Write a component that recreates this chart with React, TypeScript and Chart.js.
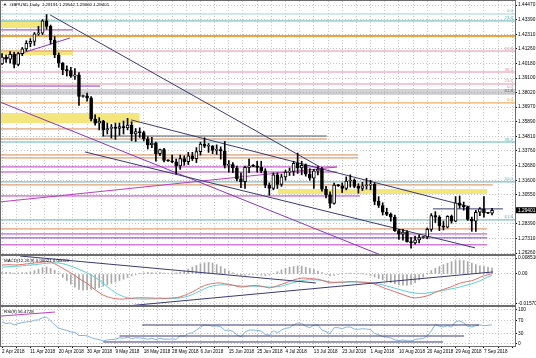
import { useEffect, useRef } from 'react';
import { Chart, registerables } from 'chart.js';

Chart.register(...registerables);

const FONT = '"Liberation Sans", Arial, sans-serif';

// ---------- categories / tick labels ----------
const dateLabels = ['2 Apr 2018', '11 Apr 2018', '20 Apr 2018', '30 Apr 2018', '9 May 2018', '18 May 2018', '28 May 2018', '6 Jun 2018', '15 Jun 2018', '25 Jun 2018', '4 Jul 2018', '13 Jul 2018', '23 Jul 2018', '1 Aug 2018', '10 Aug 2018', '20 Aug 2018', '29 Aug 2018', '7 Sep 2018'];
const priceTicks = [1.4447, 1.4339, 1.4231, 1.4126, 1.4018, 1.391, 1.3802, 1.3697, 1.3589, 1.3481, 1.3376, 1.3268, 1.316, 1.3055, 1.2839, 1.2731, 1.2626];
const macdTicks = [0.00851, 0, -0.0157];
const macdTickLabels = ['0.008510', '0.00', '-0.01570'];
const rsiTicks = [100, 70, 30, 0];
const rsiTickLabels = ['100', '70', '30', '0'];

// ---------- daily GBPUSD candles ----------
const opens = [1.4015, 1.4065, 1.405, 1.4085, 1.401, 1.409, 1.4125, 1.4165, 1.418, 1.4235, 1.424, 1.433, 1.429, 1.419, 1.408, 1.402, 1.397, 1.3965, 1.3925, 1.3935, 1.3775, 1.378, 1.3765, 1.361, 1.358, 1.3595, 1.353, 1.354, 1.355, 1.354, 1.3555, 1.3545, 1.3565, 1.35, 1.3518, 1.351, 1.3465, 1.342, 1.3433, 1.3355, 1.3385, 1.3305, 1.3303, 1.3295, 1.3265, 1.332, 1.3296, 1.334, 1.3318, 1.337, 1.3425, 1.341, 1.3412, 1.338, 1.3385, 1.3375, 1.327, 1.3275, 1.325, 1.317, 1.315, 1.3255, 1.3266, 1.3262, 1.3255, 1.323, 1.3125, 1.31, 1.32, 1.313, 1.3185, 1.322, 1.3225, 1.3285, 1.325, 1.327, 1.3205, 1.3175, 1.323, 1.324, 1.3095, 1.3055, 1.299, 1.3125, 1.312, 1.31, 1.3155, 1.316, 1.3115, 1.31, 1.312, 1.3125, 1.313, 1.3005, 1.2975, 1.2925, 1.291, 1.289, 1.279, 1.2765, 1.278, 1.271, 1.27, 1.2722, 1.274, 1.2745, 1.28, 1.29, 1.289, 1.2825, 1.2815, 1.2895, 1.286, 1.2995, 1.2975, 1.2965, 1.2873, 1.286, 1.2925, 1.295, 1.292, 1.29191];
const highs = [1.409, 1.408, 1.4105, 1.41, 1.41, 1.4135, 1.4185, 1.42, 1.4245, 1.429, 1.434, 1.4377, 1.43, 1.4215, 1.4095, 1.4025, 1.4, 1.399, 1.398, 1.395, 1.3785, 1.38, 1.3775, 1.364, 1.362, 1.36, 1.358, 1.357, 1.358, 1.358, 1.3595, 1.3615, 1.359, 1.354, 1.3545, 1.352, 1.348, 1.3475, 1.344, 1.339, 1.3395, 1.331, 1.3345, 1.3315, 1.3345, 1.334, 1.3365, 1.3365, 1.34, 1.344, 1.3472, 1.343, 1.3415, 1.342, 1.3405, 1.3445, 1.3305, 1.329, 1.3265, 1.3215, 1.3265, 1.3315, 1.3275, 1.33, 1.33, 1.3245, 1.314, 1.3215, 1.3215, 1.3205, 1.3235, 1.325, 1.33, 1.336, 1.33, 1.328, 1.3245, 1.324, 1.326, 1.3255, 1.3115, 1.3075, 1.314, 1.313, 1.314, 1.3185, 1.32, 1.317, 1.3135, 1.3145, 1.3175, 1.316, 1.314, 1.304, 1.2995, 1.2955, 1.292, 1.2905, 1.28, 1.28, 1.279, 1.274, 1.275, 1.276, 1.2748, 1.281, 1.2915, 1.293, 1.29, 1.286, 1.29, 1.2905, 1.304, 1.3045, 1.3, 1.297, 1.289, 1.294, 1.296, 1.304, 1.2925, 1.29542];
const lows = [1.401, 1.4025, 1.402, 1.3985, 1.4, 1.4075, 1.411, 1.414, 1.415, 1.4225, 1.423, 1.427, 1.416, 1.406, 1.399, 1.3935, 1.3925, 1.3915, 1.39, 1.371, 1.377, 1.374, 1.3595, 1.3565, 1.353, 1.3485, 1.35, 1.347, 1.346, 1.349, 1.35, 1.353, 1.345, 1.3445, 1.3475, 1.345, 1.339, 1.34, 1.33, 1.334, 1.3295, 1.3298, 1.329, 1.3205, 1.324, 1.327, 1.3275, 1.3305, 1.329, 1.3345, 1.34, 1.3365, 1.3355, 1.335, 1.3315, 1.325, 1.322, 1.3215, 1.3155, 1.3105, 1.31, 1.3215, 1.326, 1.322, 1.3215, 1.3105, 1.305, 1.309, 1.31, 1.3115, 1.316, 1.3195, 1.3195, 1.321, 1.32, 1.319, 1.316, 1.31, 1.32, 1.308, 1.303, 1.2957, 1.2985, 1.3115, 1.307, 1.309, 1.311, 1.3105, 1.3065, 1.3085, 1.3095, 1.309, 1.298, 1.296, 1.2905, 1.29, 1.286, 1.2785, 1.2725, 1.272, 1.2705, 1.2662, 1.269, 1.27, 1.2735, 1.273, 1.2785, 1.285, 1.279, 1.2795, 1.281, 1.2845, 1.2855, 1.2955, 1.294, 1.2865, 1.2785, 1.2785, 1.29, 1.289, 1.2915, 1.2906];
const closes = [1.4065, 1.405, 1.4085, 1.401, 1.409, 1.4125, 1.4165, 1.418, 1.4235, 1.424, 1.433, 1.429, 1.419, 1.408, 1.402, 1.397, 1.3965, 1.3925, 1.3935, 1.3775, 1.378, 1.3765, 1.361, 1.358, 1.3595, 1.353, 1.354, 1.355, 1.354, 1.3555, 1.3545, 1.3565, 1.35, 1.3518, 1.351, 1.3465, 1.342, 1.3433, 1.3355, 1.3385, 1.3305, 1.3303, 1.3295, 1.3265, 1.332, 1.3296, 1.334, 1.3318, 1.337, 1.3425, 1.341, 1.3412, 1.338, 1.3385, 1.3375, 1.327, 1.3275, 1.325, 1.317, 1.315, 1.3255, 1.3266, 1.3262, 1.3255, 1.323, 1.3125, 1.31, 1.32, 1.313, 1.3185, 1.322, 1.3225, 1.3285, 1.325, 1.327, 1.3205, 1.3175, 1.323, 1.324, 1.3095, 1.3055, 1.299, 1.3125, 1.312, 1.31, 1.3155, 1.316, 1.3115, 1.31, 1.312, 1.3125, 1.313, 1.3005, 1.2975, 1.2925, 1.291, 1.289, 1.279, 1.2765, 1.278, 1.271, 1.27, 1.2722, 1.274, 1.2745, 1.28, 1.29, 1.289, 1.2825, 1.2815, 1.2895, 1.286, 1.2995, 1.2975, 1.2965, 1.2873, 1.286, 1.2925, 1.295, 1.292, 1.2919, 1.29401];

// ---------- MACD panel ----------
const macdMain = [0.0048, 0.0049, 0.005, 0.0048, 0.0049, 0.0051, 0.0054, 0.0056, 0.0059, 0.0061, 0.0064, 0.0066, 0.0064, 0.0055, 0.0043, 0.003, 0.0018, 0.0005, -0.0008, -0.0025, -0.0038, -0.005, -0.0068, -0.0085, -0.01, -0.0113, -0.0122, -0.0128, -0.0132, -0.0134, -0.0134, -0.0131, -0.013, -0.0128, -0.0127, -0.0127, -0.0128, -0.0128, -0.013, -0.0129, -0.013, -0.013, -0.0128, -0.0127, -0.0122, -0.0115, -0.0106, -0.0096, -0.0084, -0.0072, -0.0062, -0.0055, -0.0051, -0.0048, -0.0048, -0.0052, -0.0056, -0.006, -0.0066, -0.007, -0.0068, -0.0064, -0.0062, -0.0062, -0.0065, -0.007, -0.0075, -0.007, -0.0063, -0.0055, -0.0047, -0.004, -0.0032, -0.0026, -0.0022, -0.0022, -0.0025, -0.0026, -0.0028, -0.0034, -0.0041, -0.0048, -0.0046, -0.0044, -0.0044, -0.0042, -0.004, -0.0041, -0.0043, -0.0044, -0.0045, -0.0047, -0.0054, -0.0062, -0.0072, -0.008, -0.0087, -0.0095, -0.0103, -0.011, -0.0118, -0.0125, -0.0128, -0.0126, -0.0122, -0.0117, -0.0108, -0.0098, -0.009, -0.0083, -0.0075, -0.0068, -0.0058, -0.005, -0.0044, -0.004, -0.0036, -0.0028, -0.0018, -0.001, -0.0004, 0.0002];
const macdSignal = [0.0037, 0.0038, 0.004, 0.0041, 0.0042, 0.0044, 0.0046, 0.0048, 0.005, 0.0052, 0.0055, 0.0057, 0.0059, 0.006, 0.0059, 0.0055, 0.0049, 0.0042, 0.0034, 0.0025, 0.0016, 0.0006, -0.0005, -0.0018, -0.0032, -0.005, -0.0068, -0.0085, -0.01, -0.0112, -0.0121, -0.0127, -0.0131, -0.0133, -0.0134, -0.0134, -0.0134, -0.0133, -0.0133, -0.0132, -0.0132, -0.0132, -0.0131, -0.013, -0.0128, -0.0124, -0.0118, -0.011, -0.01, -0.009, -0.0079, -0.007, -0.0064, -0.006, -0.0058, -0.0058, -0.0059, -0.006, -0.0062, -0.0064, -0.0065, -0.0065, -0.0065, -0.0065, -0.0066, -0.0068, -0.007, -0.007, -0.0068, -0.0064, -0.0058, -0.0052, -0.0046, -0.004, -0.0035, -0.0032, -0.0031, -0.0031, -0.0032, -0.0034, -0.0038, -0.0042, -0.0044, -0.0044, -0.0044, -0.0044, -0.0043, -0.0043, -0.0043, -0.0044, -0.0045, -0.0046, -0.0049, -0.0053, -0.0058, -0.0064, -0.007, -0.0076, -0.0082, -0.0088, -0.0094, -0.0099, -0.0102, -0.0104, -0.0104, -0.0102, -0.0099, -0.0095, -0.0091, -0.0087, -0.0083, -0.0079, -0.0075, -0.007, -0.0064, -0.0058, -0.0052, -0.0045, -0.0037, -0.0026, -0.0015, -0.0008];
const macdHist = [0.0008, 0.0009, 0.0007, 0.0005, 0.0006, 0.0007, 0.0008, 0.001, 0.0018, 0.0026, 0.0034, 0.0038, 0.003, 0.002, 0.0005, -0.0018, -0.0035, -0.0055, -0.007, -0.0082, -0.0086, -0.0085, -0.0082, -0.0078, -0.0072, -0.0066, -0.0058, -0.005, -0.0042, -0.0035, -0.0028, -0.0018, -0.001, -0.0005, 0.0002, 0.0006, 0.0008, 0.0008, 0.0006, 0.0007, 0.0005, 0.0004, 0.0005, 0.0006, 0.001, 0.0016, 0.0026, 0.0036, 0.0046, 0.0054, 0.006, 0.0062, 0.0058, 0.005, 0.004, 0.0028, 0.0016, 0.0006, -0.0004, -0.0008, -0.0006, -0.0004, -0.0004, -0.0005, -0.0006, -0.0008, -0.0006, 0.0002, 0.0012, 0.0022, 0.003, 0.0036, 0.004, 0.0043, 0.0042, 0.0036, 0.003, 0.0024, 0.0016, 0.0008, -0.0004, -0.001, -0.0008, -0.0004, 0.0002, 0.0003, 0.0005, 0.0004, 0.0002, 0.0001, -0.0002, -0.0008, -0.0016, -0.0024, -0.0032, -0.004, -0.0046, -0.0052, -0.0058, -0.006, -0.006, -0.0056, -0.0046, -0.0032, -0.0016, 0.0004, 0.0018, 0.003, 0.004, 0.005, 0.0058, 0.0066, 0.0072, 0.0075, 0.0072, 0.0066, 0.0058, 0.005, 0.0044, 0.004, 0.0036, 0.0032];

// ---------- RSI panel ----------
const rsi = [65, 60, 62, 56, 60, 63, 65, 66, 70, 71, 77, 79, 68, 56, 47, 43, 40, 35, 34, 25, 25, 24, 19, 15, 13, 9, 12, 13, 14, 18, 17, 20, 16, 18, 18, 16, 14, 17, 13, 17, 14, 14, 15, 14, 24, 23, 31, 33, 41, 50, 56, 55, 52, 53, 51, 40, 41, 37, 27, 21, 35, 41, 41, 40, 38, 28, 26, 39, 33, 41, 46, 48, 56, 62, 60, 52, 48, 55, 56, 41, 36, 30, 48, 48, 45, 50, 50, 44, 43, 45, 44, 42, 31, 27, 22, 20, 18, 12, 10, 12, 9, 9, 13, 15, 16, 24, 38, 58, 52, 50, 54, 50, 66, 68, 62, 52, 50, 54, 56, 54, 55, 56.47];

// ---------- drawn objects (price / bar-index coordinates) ----------
const levels = [
  { p: 1.4381, from: -1, to: 128, kind: 'tealLight' },
  { p: 1.433, from: -1, to: 128, kind: 'teal' },
  { p: 1.4219, from: -1, to: 128, kind: 'orangeThick' },
  { p: 1.4264, from: -1, to: 17.5, kind: 'purple' },
  { p: 1.4109, from: -1, to: 128, kind: 'pink' },
  { p: 1.3955, from: -1, to: 128, kind: 'pink' },
  { p: 1.3867, from: -1, to: 128, kind: 'pink' },
  { p: 1.3852, from: -1, to: 24.2, kind: 'purple' },
  { p: 1.3823, from: -1, to: 128, kind: 'gray' },
  { p: 1.3808, from: -1, to: 128, kind: 'gray' },
  { p: 1.3794, from: -1, to: 128, kind: 'gray' },
  { p: 1.3728, from: -1, to: 128, kind: 'orange' },
  { p: 1.3537, from: -1, to: 24.2, kind: 'brown' },
  { p: 1.3485, from: 24.7, to: 80.2, kind: 'darkgray' },
  { p: 1.3463, from: -1, to: 80.2, kind: 'brown' },
  { p: 1.3441, from: -1, to: 128, kind: 'teal' },
  { p: 1.3346, from: -1, to: 87.9, kind: 'brown' },
  { p: 1.3324, from: -1, to: 87.9, kind: 'brown' },
  { p: 1.3258, from: -1, to: 82.7, kind: 'magenta' },
  { p: 1.3221, from: -1, to: 82.7, kind: 'magenta' },
  { p: 1.3148, from: -1, to: 128, kind: 'teal' },
  { p: 1.3126, from: -1, to: 121.2, kind: 'brown' },
  { p: 1.3045, from: -1, to: 88.4, kind: 'magenta' },
  { p: 1.295, from: 106.4, to: 123.7, kind: 'navy' },
  { p: 1.2869, from: -1, to: 128, kind: 'teal' },
  { p: 1.2803, from: -1, to: 119.8, kind: 'brown' },
  { p: 1.2766, from: -1, to: 119.8, kind: 'magenta' },
  { p: 1.2737, from: -1, to: 119.8, kind: 'purple' },
  { p: 1.2686, from: -1, to: 119.8, kind: 'magenta' },
];
const zones = [
  { top: 1.433, bottom: 1.4278, from: -1, to: 11.1 },
  { top: 1.4117, bottom: 1.408, from: -1, to: 17.5 },
  { top: 1.3654, bottom: 1.3581, from: -1, to: 34 },
  { top: 1.3096, bottom: 1.306, from: 68, to: 119.8 },
];
const trendlines = [
  { x1: 11.9, y1: 1.4374, x2: 78.5, y2: 1.3258, kind: 'navy' },
  { x1: 31.9, y1: 1.3603, x2: 115.6, y2: 1.2964, kind: 'navy' },
  { x1: 20.5, y1: 1.3368, x2: 116.8, y2: 1.2664, kind: 'navy' },
  { x1: -0.5, y1: 1.3735, x2: 98.3, y2: 1.2554, kind: 'purple' },
  { x1: -0.5, y1: 1.4043, x2: 16.8, y2: 1.4205, kind: 'purple' },
  { x1: -0.5, y1: 1.3001, x2: 82.7, y2: 1.3258, kind: 'magenta' },
];
const fibTexts = [
  { t: '0.0', p: 1.4381, kind: 'teal' },
  { t: '23.6', p: 1.433, kind: 'teal' },
  { t: '61.8', p: 1.4109, kind: 'pink' },
  { t: '38.2', p: 1.3955, kind: 'pink' },
  { t: '23.6', p: 1.3867, kind: 'pink' },
  { t: '0.0', p: 1.3823, kind: 'gray' },
  { t: '61.8', p: 1.3794, kind: 'darkgray' },
  { t: '0.0', p: 1.3728, kind: 'orange' },
  { t: '38.2', p: 1.3441, kind: 'teal' },
  { t: '50.0', p: 1.3148, kind: 'teal' },
  { t: '61.8', p: 1.2869, kind: 'teal' },
];
const macdLines = [
  { x1: 4.4, y1: 0.00963, x2: 77.5, y2: -0.0048, kind: 'navy' },
  { x1: 30.9, y1: -0.0171, x2: 121.2, y2: 0.0011, kind: 'navy' },
];
const rsiLines = [
  { x1: -0.5, y1: 82, x2: 13.1, y2: 94, kind: 'magenta' },
  { x1: 34.6, y1: 55.9, x2: 117.8, y2: 55.9, kind: 'navy' },
  { x1: 29, y1: 23.5, x2: 114.1, y2: 23.5, kind: 'navy' },
  { x1: 25, y1: 5.9, x2: 108.9, y2: 5.9, kind: 'navy' },
];

const headerText = 'GBPUSD,Daily  1.29191 1.29542 1.29060 1.29401';
const macdTitle = 'MACD(12,26,9) 0.00021 0.00013';
const rsiTitle = 'RSI(9) 56.4728';
const lastPrice = 1.29401;

// ---------- styles ----------
const STY: Record<string, { c: string; w: number }> = {
  tealLight: { c: '#9fd6d6', w: 1 },
  teal: { c: '#5cb4b4', w: 1 },
  orange: { c: '#ee9c3a', w: 1 },
  orangeThick: { c: '#eea23c', w: 2 },
  brown: { c: '#d68a52', w: 1 },
  pink: { c: '#e690a8', w: 1 },
  magenta: { c: '#c03cc4', w: 1 },
  purple: { c: '#8c34c0', w: 1 },
  navy: { c: '#3a3a74', w: 1 },
  gray: { c: '#a4a4ac', w: 1 },
  darkgray: { c: '#5a5a60', w: 1 },
};
const ZONE_COLOR = '#f2e67c';
const GRID = '#c6c6c6';
const X_MIN = -0.5;
const X_MAX = 126.67;

function lineDs(x1: number, y1: number, x2: number, y2: number, kind: string, order: number) {
  const s = STY[kind];
  return {
    type: 'line', data: [{ x: x1, y: y1 }, { x: x2, y: y2 }], borderColor: s.c, borderWidth: s.w,
    pointRadius: 0, fill: false, tension: 0, order,
  };
}

function xAxis(showLabels: boolean) {
  return {
    type: 'linear', min: X_MIN, max: X_MAX, offset: false, display: true,
    afterBuildTicks: (s: any) => {
      const t = [];
      for (let k = 0; k <= 36; k++) t.push({ value: k * 3.5 });
      s.ticks = t;
    },
    afterFit: (s: any) => {
      s.height = showLabels ? 12 : 0;
      s.paddingLeft = 0; s.paddingRight = 0; s.paddingTop = 0; s.paddingBottom = 0;
    },
    grid: { color: GRID, lineWidth: 1, drawTicks: showLabels, tickLength: 2, tickColor: '#000', tickBorderDash: [], offset: false },
    border: { display: false, dash: [1, 2] },
    ticks: {
      display: showLabels, autoSkip: false, maxRotation: 0, minRotation: 0, align: 'start', padding: 1,
      color: '#000', font: { family: FONT, size: 4.6 },
      callback: (v: number) => {
        const k = v / 7;
        return Number.isInteger(k) && dateLabels[k] ? dateLabels[k] : '';
      },
    },
  };
}

function yAxis(min: number, max: number, ticks: number[], fmt: (v: number, i: number) => string) {
  return {
    type: 'linear', position: 'right', min, max,
    afterBuildTicks: (s: any) => { s.ticks = ticks.map((v) => ({ value: v })); },
    afterFit: (s: any) => {
      s.width = 21;
      s.paddingLeft = 0; s.paddingRight = 0; s.paddingTop = 0; s.paddingBottom = 0;
    },
    grid: { color: GRID, lineWidth: 1, drawTicks: true, tickLength: 2, tickColor: '#000', tickBorderDash: [] },
    border: { display: false, dash: [1, 2] },
    ticks: { color: '#000', padding: 1, font: { family: FONT, size: 4.8 }, callback: (v: number, i: number) => fmt(v, i) },
  };
}

function decor(opts: { title?: string; header?: boolean; fib?: boolean; priceTag?: boolean }) {
  return {
    id: 'decor',
    afterDraw(chart: any) {
      const { ctx, chartArea: a } = chart;
      ctx.save();
      ctx.strokeStyle = '#6c6c6c';
      ctx.lineWidth = 1;
      ctx.strokeRect(0.5, 0.5, Math.round(a.right), Math.round(a.bottom));
      ctx.textBaseline = 'middle';
      if (opts.header) {
        ctx.fillStyle = '#000';
        ctx.font = `4px ${FONT}`;
        ctx.fillText('\u25BC', 3, 5);
        ctx.font = `4.4px ${FONT}`;
        ctx.fillText(headerText, 10, 5);
      }
      if (opts.title) {
        ctx.fillStyle = '#000';
        ctx.font = `4.4px ${FONT}`;
        ctx.fillText(opts.title, 4, 6);
      }
      const ys = chart.scales.y;
      if (opts.fib) {
        ctx.font = `4.4px ${FONT}`;
        ctx.textAlign = 'right';
        ctx.textBaseline = 'bottom';
        fibTexts.forEach((f) => {
          ctx.fillStyle = STY[f.kind].c;
          ctx.fillText(f.t, a.right - 2, ys.getPixelForValue(f.p) - 0.5);
        });
      }
      if (opts.priceTag) {
        const y = ys.getPixelForValue(lastPrice);
        ctx.fillStyle = '#000';
        ctx.fillRect(a.right + 1, y - 3, 21, 6);
        ctx.fillStyle = '#fff';
        ctx.textAlign = 'left';
        ctx.textBaseline = 'middle';
        ctx.font = `4.8px ${FONT}`;
        ctx.fillText(lastPrice.toFixed(5), a.right + 3, y);
      }
      ctx.restore();
    },
  };
}

const common = {
  responsive: false, animation: false, devicePixelRatio: 1, events: [],
  plugins: { legend: { display: false }, tooltip: { enabled: false } },
};

function mainConfig(): any {
  const wick = opens.map((_, i) => ({ x: i, y: [lows[i], highs[i]] }));
  const body = opens.map((o, i) => ({ x: i, y: [o, closes[i]] }));
  const bodyBg = opens.map((o, i) => (closes[i] >= o ? '#ffffff' : '#000000'));
  const datasets: any[] = [
    { type: 'bar', data: body, backgroundColor: bodyBg, borderColor: '#000', borderWidth: 1, borderSkipped: false, grouped: false, barThickness: 3, maxBarThickness: 3, minBarLength: 1, order: 0 },
    { type: 'bar', data: wick, backgroundColor: '#000', borderWidth: 0, grouped: false, barThickness: 1, maxBarThickness: 1, order: 1 },
  ];
  trendlines.forEach((t) => datasets.push(lineDs(t.x1, t.y1, t.x2, t.y2, t.kind, 2)));
  levels.forEach((l) => datasets.push(lineDs(l.from, l.p, l.to, l.p, l.kind, 3)));
  zones.forEach((z) => datasets.push({
    type: 'line', data: [{ x: z.from, y: z.top }, { x: z.to, y: z.top }], borderWidth: 0, pointRadius: 0,
    backgroundColor: ZONE_COLOR, fill: { value: z.bottom }, order: 4,
  }));
  return {
    type: 'line',
    data: { datasets },
    options: {
      ...common,
      layout: { padding: { top: 1, bottom: 1, left: 0, right: 0 } },
      scales: {
        x: xAxis(false),
        y: yAxis(1.26187, 1.44764, priceTicks, (v) => Number(v).toFixed(5)),
      },
    },
    plugins: [decor({ header: true, fib: true, priceTag: true })],
  };
}

function macdConfig(): any {
  const datasets: any[] = [
    { type: 'line', data: macdMain.map((v, i) => ({ x: i, y: v })), borderColor: '#e0706c', borderWidth: 1, pointRadius: 0, tension: 0, order: 1 },
    { type: 'line', data: macdSignal.map((v, i) => ({ x: i, y: v })), borderColor: '#58d0d4', borderWidth: 1, pointRadius: 0, tension: 0, order: 2 },
    { type: 'bar', data: macdHist.map((v, i) => ({ x: i, y: v })), backgroundColor: '#a8a8a8', grouped: false, barThickness: 1, maxBarThickness: 1, order: 4 },
  ];
  macdLines.forEach((t) => datasets.push(lineDs(t.x1, t.y1, t.x2, t.y2, t.kind, 0)));
  return {
    type: 'line',
    data: { datasets },
    options: {
      ...common,
      layout: { padding: { top: 1, bottom: 1, left: 0, right: 0 } },
      scales: {
        x: xAxis(false),
        y: yAxis(-0.01659, 0.00963, macdTicks, (_v, i) => macdTickLabels[i]),
      },
    },
    plugins: [decor({ title: macdTitle })],
  };
}

function rsiConfig(): any {
  const datasets: any[] = [
    { type: 'line', data: rsi.map((v, i) => ({ x: i, y: v })), borderColor: '#84b4dc', borderWidth: 1, pointRadius: 0, tension: 0, order: 2 },
  ];
  rsiLines.forEach((t) => datasets.push(lineDs(t.x1, t.y1, t.x2, t.y2, t.kind, 1)));
  return {
    type: 'line',
    data: { datasets },
    options: {
      ...common,
      layout: { padding: { top: 1, bottom: 0, left: 0, right: 0 } },
      scales: {
        x: xAxis(true),
        y: yAxis(-5.9, 108.8, rsiTicks, (_v, i) => rsiTickLabels[i]),
      },
    },
    plugins: [decor({ title: rsiTitle })],
  };
}

export default function App() {
  const mainRef = useRef<HTMLCanvasElement>(null);
  const macdRef = useRef<HTMLCanvasElement>(null);
  const rsiRef = useRef<HTMLCanvasElement>(null);
  useEffect(() => {
    const charts = [
      new Chart(mainRef.current as HTMLCanvasElement, mainConfig()),
      new Chart(macdRef.current as HTMLCanvasElement, macdConfig()),
      new Chart(rsiRef.current as HTMLCanvasElement, rsiConfig()),
    ];
    return () => charts.forEach((c) => c.destroy());
  }, []);
  return (
    <div style={{ position: 'fixed', left: 0, top: 0, width: 536, height: 358, background: '#fff', overflow: 'hidden' }}>
      <canvas ref={mainRef} width={536} height={255} style={{ position: 'absolute', left: 0, top: 0 }} />
      <canvas ref={macdRef} width={536} height={51} style={{ position: 'absolute', left: 0, top: 255 }} />
      <canvas ref={rsiRef} width={536} height={52} style={{ position: 'absolute', left: 0, top: 306 }} />
    </div>
  );
}
